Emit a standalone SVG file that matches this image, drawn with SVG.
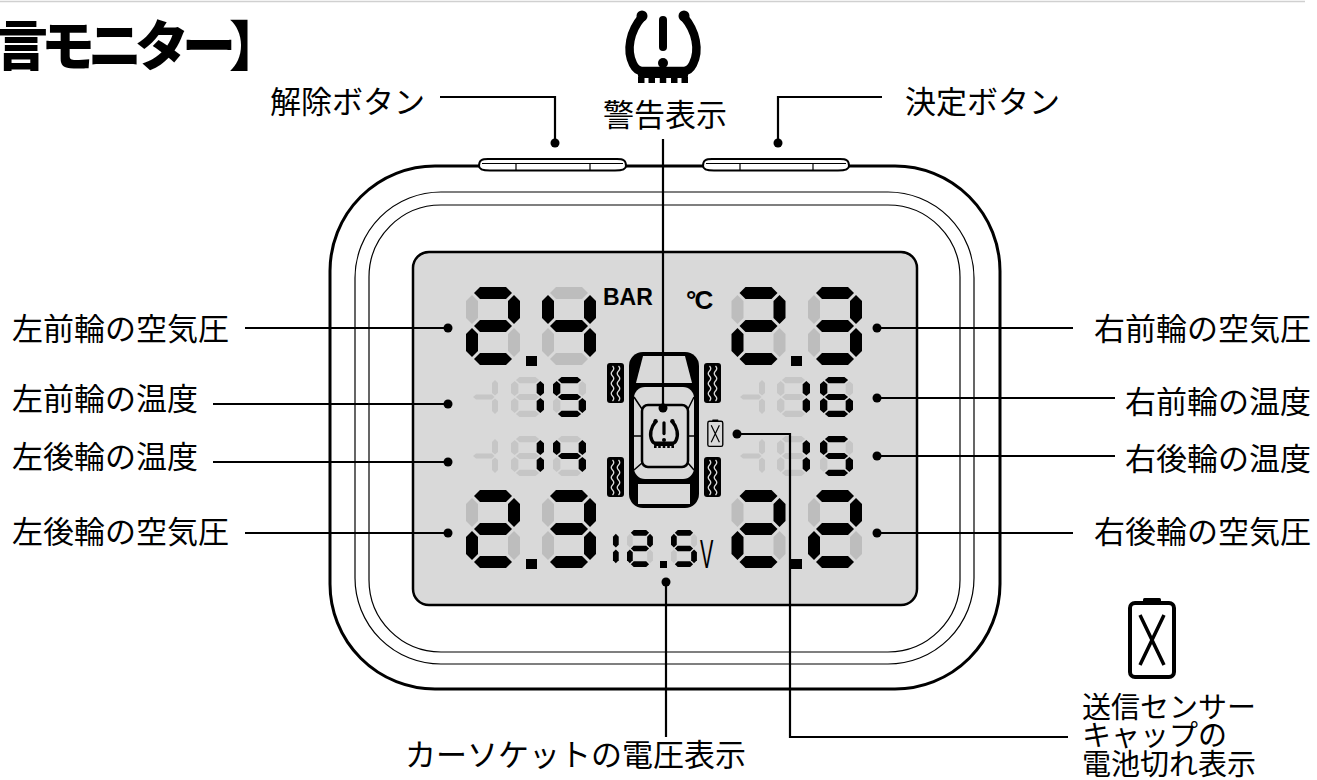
<svg xmlns="http://www.w3.org/2000/svg" width="1317" height="780" viewBox="0 0 1317 780">
<style>
.jp{font-family:"Noto Sans CJK JP","Noto Sans",sans-serif;font-size:31px;fill:#000}
.title{font-family:"Noto Sans CJK JP",sans-serif;font-size:54px;font-weight:900;letter-spacing:-7px;fill:#000}
.lat{font-family:"Liberation Sans",Arial,sans-serif;fill:#000}
.on{fill:#000}
.off{fill:#bdbdbd}
.offs{fill:#c6c6c6}
.ln{fill:none;stroke:#000;stroke-width:2.2}
.body{fill:#fff;stroke:#000;stroke-width:3}
.thin{fill:none;stroke:#000;stroke-width:1.2}
.lcd{fill:#d9d9d9;stroke:#000;stroke-width:2.5}
.btn{fill:#fff;stroke:#000;stroke-width:2}
</style>
<defs>
  <!-- seven-segment pieces, 54 x 78 cell -->
  <path id="sa" d="M8,6 L14,0 H40 L46,6 L40,12 H14 Z"/>
  <path id="sg" d="M8,39 L14,33 H40 L46,39 L40,45 H14 Z"/>
  <path id="sd" d="M8,72 L14,66 H40 L46,72 L40,78 H14 Z"/>
  <path id="sf" d="M6,8 L12,14 V31 L6,37 L0,31 V14 Z"/>
  <path id="sb" d="M48,8 L54,14 V31 L48,37 L42,31 V14 Z"/>
  <path id="se" d="M6,41 L12,47 V64 L6,70 L0,64 V47 Z"/>
  <path id="sc" d="M48,41 L54,47 V64 L48,70 L42,64 V47 Z"/>
  <!-- minus/one sign of the temperature rows -->
  <g id="sign" class="offs">
    <path d="M0,20 L3,17.5 H19 L21.5,20 L19,22.5 H3 Z"/>
    <path d="M22,3 L25,6 V16 L22,18.5 L19,16 V6 Z"/>
    <path d="M22,21.5 L25,24 V34 L22,37 L19,34 V24 Z"/>
  </g>
  <!-- tyre pressure warning symbol -->
  <g id="tpms">
    <path d="M-21,-31 C-33,-17 -37,2 -30,16 C-28,20 -25,23 -21,23 H21 C25,23 28,20 30,16 C37,2 33,-17 21,-31" fill="none" stroke="#000" stroke-width="8.5" stroke-linecap="round"/>
    <circle cx="-21" cy="-32" r="5.5" fill="#000"/>
    <circle cx="21" cy="-32" r="5.5" fill="#000"/>
    <rect x="-25" y="21" width="50" height="9" rx="2" fill="#000"/>
    <rect x="-25" y="29" width="6.5" height="6" fill="#000"/>
    <rect x="-14.5" y="29" width="6.5" height="6" fill="#000"/>
    <rect x="-3.25" y="29" width="6.5" height="6" fill="#000"/>
    <rect x="8" y="29" width="6.5" height="6" fill="#000"/>
    <rect x="18.5" y="29" width="6.5" height="6" fill="#000"/>
    <rect x="-4" y="-32" width="8" height="35" rx="4" fill="#000"/>
    <circle cx="0" cy="15" r="5" fill="#000"/>
  </g>
  <!-- empty battery symbol -->
  <g id="batt">
    <rect x="-22" y="-36" width="44" height="74" rx="5" fill="none" stroke="#000" stroke-width="4"/>
    <rect x="-9" y="-41" width="18" height="6" rx="1.5" fill="#000"/>
    <path d="M-12,-24 L12,26 M12,-24 L-12,26" fill="none" stroke="#000" stroke-width="3.5"/>
  </g>
  <!-- tyre with tread -->
  <g id="tire">
    <rect width="17" height="40" rx="3" fill="#000"/>
    <path d="M5.5,3 q2.5,2.5 0,5 t0,5 t0,5 t0,5 t0,5 t0,5 t0,5 M11.5,3 q2.5,2.5 0,5 t0,5 t0,5 t0,5 t0,5 t0,5 t0,5" fill="none" stroke="#d9d9d9" stroke-width="1.3"/>
  </g>
</defs>

<rect width="1317" height="780" fill="#fff"/>
<line x1="0" y1="1.5" x2="1305" y2="1.5" stroke="#d0d0d0" stroke-width="1.5"/>

<text id="title" class="title" x="-6" y="66">言モニター】</text>

<!-- monitor housing -->
<g id="housing">
  <rect class="body" x="330" y="166" width="670" height="523" rx="105"/>
  <rect class="thin" x="355" y="192" width="619" height="472" rx="86"/>
  <rect class="thin" x="369" y="205" width="591" height="447" rx="72"/>
</g>

<g id="btn-release">
  <path class="btn" d="M479,166 C479,160 482,159 488,159 H617 C623,159 626,160 626,166 C626,170 621,170.5 615,170.5 H490 C484,170.5 479,170 479,166 Z"/>
  <line x1="482" y1="163.5" x2="623" y2="163.5" stroke="#000" stroke-width="1.2"/>
  <path d="M516,163.5 V170.5 M590,163.5 V170.5" stroke="#000" stroke-width="1.2"/>
</g>
<g id="btn-set">
  <path class="btn" d="M703,166 C703,160 706,159 712,159 H840 C846,159 849,160 849,166 C849,170 844,170.5 838,170.5 H714 C708,170.5 703,170 703,166 Z"/>
  <line x1="706" y1="163.5" x2="846" y2="163.5" stroke="#000" stroke-width="1.2"/>
  <path d="M740,163.5 V170.5 M813,163.5 V170.5" stroke="#000" stroke-width="1.2"/>
</g>

<g id="lcd">
  <rect class="lcd" x="413" y="252" width="504" height="353" rx="16"/>
  <text class="lat" x="603" y="305" font-size="23" font-weight="bold">BAR</text>
  <text class="lat" x="686" y="309" font-size="26" font-weight="bold" letter-spacing="-2">°C</text>
</g>

<!-- front-left pressure 2.4 -->
<g id="p-fl">
  <g transform="translate(466,287)"><use href="#sa" class="on"/><use href="#sb" class="on"/><use href="#sg" class="on"/><use href="#se" class="on"/><use href="#sd" class="on"/><use href="#sf" class="off"/><use href="#sc" class="off"/></g>
  <rect x="526" y="356" width="11" height="10" fill="#000"/>
  <g transform="translate(542,287)"><use href="#sf" class="on"/><use href="#sb" class="on"/><use href="#sg" class="on"/><use href="#sc" class="on"/><use href="#sa" class="off"/><use href="#se" class="off"/><use href="#sd" class="off"/></g>
</g>
<!-- front-right pressure 2.3 -->
<g id="p-fr">
  <g transform="translate(731.5,287)"><use href="#sa" class="on"/><use href="#sb" class="on"/><use href="#sg" class="on"/><use href="#se" class="on"/><use href="#sd" class="on"/><use href="#sf" class="off"/><use href="#sc" class="off"/></g>
  <rect x="791" y="356" width="11" height="10" fill="#000"/>
  <g transform="translate(808,287)"><use href="#sa" class="on"/><use href="#sb" class="on"/><use href="#sg" class="on"/><use href="#sc" class="on"/><use href="#sd" class="on"/><use href="#sf" class="off"/><use href="#se" class="off"/></g>
</g>
<!-- rear-left pressure 2.3 -->
<g id="p-rl">
  <g transform="translate(466,490)"><use href="#sa" class="on"/><use href="#sb" class="on"/><use href="#sg" class="on"/><use href="#se" class="on"/><use href="#sd" class="on"/><use href="#sf" class="off"/><use href="#sc" class="off"/></g>
  <rect x="526" y="559" width="11" height="10" fill="#000"/>
  <g transform="translate(542,490)"><use href="#sa" class="on"/><use href="#sb" class="on"/><use href="#sg" class="on"/><use href="#sc" class="on"/><use href="#sd" class="on"/><use href="#sf" class="off"/><use href="#se" class="off"/></g>
</g>
<!-- rear-right pressure 2.2 -->
<g id="p-rr">
  <g transform="translate(731.5,490)"><use href="#sa" class="on"/><use href="#sb" class="on"/><use href="#sg" class="on"/><use href="#se" class="on"/><use href="#sd" class="on"/><use href="#sf" class="off"/><use href="#sc" class="off"/></g>
  <rect x="791" y="559" width="11" height="10" fill="#000"/>
  <g transform="translate(808,490)"><use href="#sa" class="on"/><use href="#sb" class="on"/><use href="#sg" class="on"/><use href="#se" class="on"/><use href="#sd" class="on"/><use href="#sf" class="off"/><use href="#sc" class="off"/></g>
</g>

<!-- temperatures -->
<g id="t-fl">
  <use href="#sign" transform="translate(473,377)"/>
  <g transform="translate(511,377) scale(0.611,0.513)"><use href="#sb" class="on"/><use href="#sc" class="on"/><use href="#sa" class="offs"/><use href="#sf" class="offs"/><use href="#sg" class="offs"/><use href="#se" class="offs"/><use href="#sd" class="offs"/></g>
  <g transform="translate(553,377) scale(0.611,0.513)"><use href="#sa" class="on"/><use href="#sf" class="on"/><use href="#sg" class="on"/><use href="#sc" class="on"/><use href="#sd" class="on"/><use href="#sb" class="offs"/><use href="#se" class="offs"/></g>
</g>
<g id="t-rl">
  <use href="#sign" transform="translate(473,436)"/>
  <g transform="translate(511,436) scale(0.611,0.513)"><use href="#sb" class="on"/><use href="#sc" class="on"/><use href="#sa" class="offs"/><use href="#sf" class="offs"/><use href="#sg" class="offs"/><use href="#se" class="offs"/><use href="#sd" class="offs"/></g>
  <g transform="translate(553,436) scale(0.611,0.513)"><use href="#sf" class="on"/><use href="#sb" class="on"/><use href="#sg" class="on"/><use href="#sc" class="on"/><use href="#sa" class="offs"/><use href="#se" class="offs"/><use href="#sd" class="offs"/></g>
</g>
<g id="t-fr">
  <use href="#sign" transform="translate(740,377)"/>
  <g transform="translate(777,377) scale(0.611,0.513)"><use href="#sb" class="on"/><use href="#sc" class="on"/><use href="#sa" class="offs"/><use href="#sf" class="offs"/><use href="#sg" class="offs"/><use href="#se" class="offs"/><use href="#sd" class="offs"/></g>
  <g transform="translate(820,377) scale(0.611,0.513)"><use href="#sa" class="on"/><use href="#sf" class="on"/><use href="#sg" class="on"/><use href="#se" class="on"/><use href="#sc" class="on"/><use href="#sd" class="on"/><use href="#sb" class="offs"/></g>
</g>
<g id="t-rr">
  <use href="#sign" transform="translate(740,436)"/>
  <g transform="translate(777,436) scale(0.611,0.513)"><use href="#sb" class="on"/><use href="#sc" class="on"/><use href="#sa" class="offs"/><use href="#sf" class="offs"/><use href="#sg" class="offs"/><use href="#se" class="offs"/><use href="#sd" class="offs"/></g>
  <g transform="translate(820,436) scale(0.611,0.513)"><use href="#sa" class="on"/><use href="#sf" class="on"/><use href="#sg" class="on"/><use href="#sc" class="on"/><use href="#sd" class="on"/><use href="#sb" class="offs"/><use href="#se" class="offs"/></g>
</g>

<!-- supply voltage 12.5V -->
<g id="volt">
  <g transform="translate(592.8,530) scale(0.48,0.474)"><use href="#sb" class="on"/><use href="#sc" class="on"/></g>
  <g transform="translate(627,530) scale(0.48,0.474)"><use href="#sa" class="on"/><use href="#sb" class="on"/><use href="#sg" class="on"/><use href="#se" class="on"/><use href="#sd" class="on"/><use href="#sf" class="offs"/><use href="#sc" class="offs"/></g>
  <rect x="660" y="561" width="7" height="7" fill="#000"/>
  <g transform="translate(671,530) scale(0.48,0.474)"><use href="#sa" class="on"/><use href="#sf" class="on"/><use href="#sg" class="on"/><use href="#sc" class="on"/><use href="#sd" class="on"/><use href="#sb" class="offs"/><use href="#se" class="offs"/></g>
  <text class="lat" transform="translate(700,568) scale(0.5,1)" font-size="40">V</text>
</g>

<!-- car seen from above -->
<g id="car">
  <use href="#tire" x="607" y="363"/>
  <use href="#tire" x="607" y="457"/>
  <use href="#tire" x="704" y="363"/>
  <use href="#tire" x="704" y="457"/>
  <rect x="629" y="352" width="70" height="156" rx="14" fill="#000"/>
  <polygon points="643,356 685,356 692,383 636,383" fill="#d9d9d9"/>
  <rect x="634" y="387" width="60" height="92" rx="11" fill="#d9d9d9"/>
  <rect x="642" y="405" width="46" height="62" rx="6" fill="#d9d9d9" stroke="#000" stroke-width="2.5"/>
  <path d="M634,397 L642,409 M694,397 L688,409 M634,436 H642 M688,436 H694 M634,470 L642,463 M694,470 L688,463" stroke="#000" stroke-width="1.5" fill="none"/>
  <rect x="638" y="484" width="52" height="20" fill="#d9d9d9"/>
  <use href="#tpms" transform="translate(664,434) scale(0.4)"/>
</g>
<use id="batt-lcd" href="#batt" transform="translate(715.3,433.5) scale(0.34)"/>

<!-- legend icons -->
<use id="warn-icon" href="#tpms" transform="translate(663,48)"/>
<use id="batt-icon" href="#batt" transform="translate(1152,639)"/>

<!-- labels -->
<g id="labels" class="jp">
  <text x="270" y="113">解除ボタン</text>
  <text x="665" y="126" text-anchor="middle">警告表示</text>
  <text x="905" y="113">決定ボタン</text>
  <text x="12" y="340">左前輪の空気圧</text>
  <text x="12" y="410">左前輪の温度</text>
  <text x="12" y="468">左後輪の温度</text>
  <text x="12" y="543">左後輪の空気圧</text>
  <text x="1311" y="340" text-anchor="end">右前輪の空気圧</text>
  <text x="1311" y="413" text-anchor="end">右前輪の温度</text>
  <text x="1311" y="470" text-anchor="end">右後輪の温度</text>
  <text x="1311" y="543" text-anchor="end">右後輪の空気圧</text>
  <text x="405" y="766">カーソケットの電圧表示</text>
  <text x="1082" y="718" font-size="29">送信センサー</text>
  <text x="1082" y="746" font-size="29">キャップの</text>
  <text x="1082" y="775" font-size="29">電池切れ表示</text>
</g>

<!-- leader lines -->
<g id="connectors">
  <path class="ln" d="M440,97 H555 V143"/>
  <path class="ln" d="M882,97 H778 V143"/>
  <path class="ln" d="M663,139 V408"/>
  <path class="ln" d="M245,328 H448 M213,404 H448 M213,462 H448 M245,533 H448"/>
  <path class="ln" d="M877,328 H1073 M877,398 H1115 M877,456 H1115 M877,533 H1073"/>
  <path class="ln" d="M666,582 V737"/>
  <path class="ln" d="M737,434 H790 V737 H1068"/>
  <g fill="#000">
    <circle cx="555" cy="143" r="4.5"/>
    <circle cx="778" cy="143" r="4.5"/>
    <circle cx="663" cy="408" r="4.5"/>
    <circle cx="448" cy="328" r="4.5"/>
    <circle cx="448" cy="404" r="4.5"/>
    <circle cx="448" cy="462" r="4.5"/>
    <circle cx="448" cy="533" r="4.5"/>
    <circle cx="877" cy="328" r="4.5"/>
    <circle cx="877" cy="398" r="4.5"/>
    <circle cx="877" cy="456" r="4.5"/>
    <circle cx="877" cy="533" r="4.5"/>
    <circle cx="666" cy="582" r="4.5"/>
    <circle cx="737" cy="434" r="4.5"/>
  </g>
</g>
</svg>
